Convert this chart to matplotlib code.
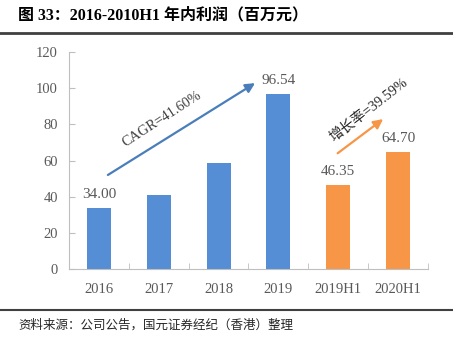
import matplotlib
matplotlib.use("Agg")
import matplotlib.pyplot as plt
from matplotlib.lines import Line2D

plt.rcParams['font.family'] = ['Liberation Serif', 'Noto Sans CJK SC', 'DejaVu Sans']

categories = ["2016", "2017", "2018", "2019", "2019H1", "2020H1"]
profits = [34.00, 40.9, 58.4, 96.54, 46.35, 64.70]
bar_colors = ["#558ED5"] * 4 + ["#F79646"] * 2
shown_labels = {0: "34.00", 3: "96.54", 4: "46.35", 5: "64.70"}
yticks = [0, 20, 40, 60, 80, 100, 120]

title = "图 33：2016-2010H1 年内利润（百万元）"
source = "资料来源：公司公告，国元证券经纪（香港）整理"
cagr_text = "CAGR=41.60%"
growth_text = "增长率=39.59%"

GRAY = "#595959"
AXIS = "#BFBFBF"

fig = plt.figure(figsize=(4.53, 3.43), dpi=100)
ax = fig.add_axes([0.1523, 0.2157, 0.7925, 0.6327])

x = range(len(categories))
ax.bar(x, profits, width=0.4, color=bar_colors, zorder=2)

for i, lbl in shown_labels.items():
    ax.annotate(lbl, (i, profits[i]), xytext=(0, 5), textcoords="offset points",
                ha="center", va="bottom", fontsize=11, color=GRAY)

ax.set_xlim(-0.5, len(categories) - 0.5)
ax.set_ylim(0, 120)
ax.set_yticks(yticks)
ax.set_xticks(list(x))
ax.set_xticklabels(categories)
ax.set_xticks([i + 0.5 for i in range(-1, len(categories))], minor=True)
ax.tick_params(axis="x", which="major", length=0, pad=10, labelsize=10.5, labelcolor=GRAY)
ax.tick_params(axis="x", which="minor", direction="in", length=4, color=AXIS)
ax.tick_params(axis="y", direction="in", length=4, color=AXIS, pad=8,
               labelsize=10.5, labelcolor=GRAY)
for s in ["top", "right"]:
    ax.spines[s].set_visible(False)
for s in ["left", "bottom"]:
    ax.spines[s].set_color(AXIS)

# growth arrows
ax.annotate("", xy=(2.61, 102.8), xytext=(0.15, 52),
            arrowprops=dict(arrowstyle="-|>", color="#4A7EBB", lw=1.6,
                            mutation_scale=14, shrinkA=0, shrinkB=0))
ax.text(1.05, 83.0, cagr_text, rotation=33, ha="center", va="center",
        fontsize=10.3, color="#404040", rotation_mode="anchor")
ax.annotate("", xy=(4.75, 82.9), xytext=(3.99, 64),
            arrowprops=dict(arrowstyle="-|>", color="#F79646", lw=1.6,
                            mutation_scale=14, shrinkA=0, shrinkB=0))
ax.text(4.5, 88.4, growth_text, rotation=38, ha="center", va="center",
        fontsize=10.3, color="#262626", rotation_mode="anchor")

# header / footer
fig.text(0.04, 0.955, title, fontsize=11.5, fontweight="bold", va="center", ha="left")
fig.add_artist(Line2D([0, 1], [0.903, 0.903], color="#404040", lw=2, transform=fig.transFigure))
fig.add_artist(Line2D([0, 1], [0.096, 0.096], color="#404040", lw=1.5, transform=fig.transFigure))
fig.text(0.04, 0.052, source, fontsize=9.0, va="center", ha="left", color="#262626",
         family=["Noto Sans CJK SC", "DejaVu Sans"], style="italic")

fig.savefig("out.png", dpi=100)
